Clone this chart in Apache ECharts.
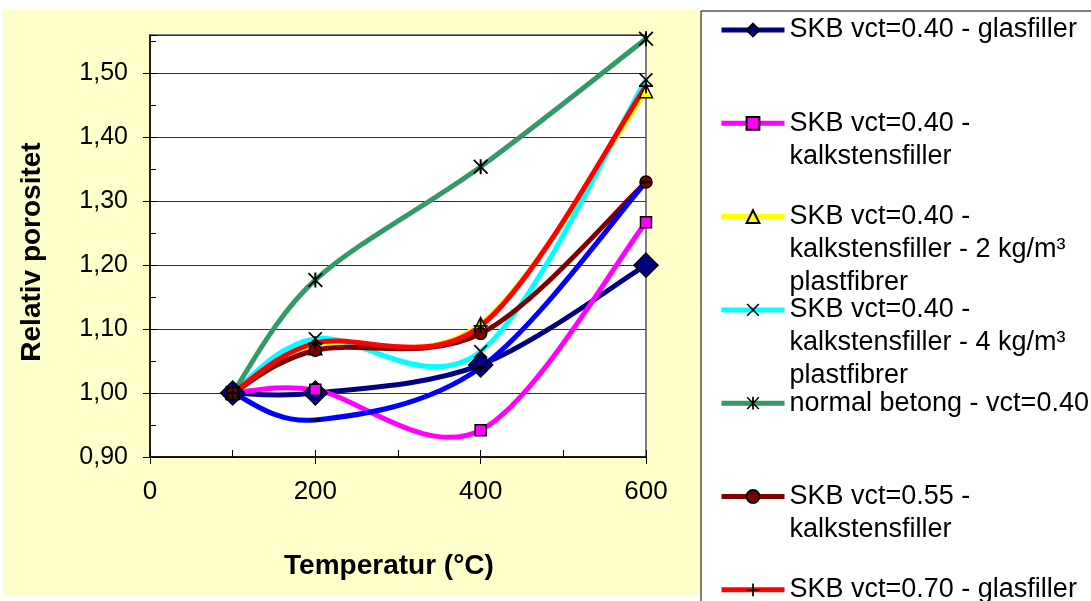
<!DOCTYPE html>
<html>
<head>
<meta charset="utf-8">
<title>Relativ porositet</title>
<script src="https://cdn.jsdelivr.net/npm/echarts@6/dist/echarts.min.js"></script>
<style>
  html, body { margin: 0; padding: 0; background: #fff; }
  #main { width: 1091px; height: 601px; }
</style>
</head>
<body>
<div id="main"></div>
<script>
// temperatures (°C) where porosity was measured
var temps = [100, 200, 400, 600];

// relative porosity per mix
var glas040 = [1.00, 1.00, 1.044, 1.20];
var kalk040 = [1.00, 1.005, 0.942, 1.267];
var kalk040p2 = [1.00, 1.07, 1.108, 1.472];
var kalk040p4 = [1.00, 1.085, 1.065, 1.49];
var normal040 = [1.00, 1.177, 1.354, 1.554];
var kalk055 = [1.00, 1.067, 1.093, 1.33];
var glas070 = [1.00, 1.078, 1.105, 1.48];
var kalk070 = [1.00, 0.958, 1.04, 1.33];

var names = [
  "SKB vct=0.40 - glasfiller",
  "SKB vct=0.40 - kalkstensfiller",
  "SKB vct=0.40 - kalkstensfiller - 2 kg/m³ plastfibrer",
  "SKB vct=0.40 - kalkstensfiller - 4 kg/m³ plastfibrer",
  "normal betong - vct=0.40",
  "SKB vct=0.55 - kalkstensfiller",
  "SKB vct=0.70 - glasfiller",
  "SKB vct=0.70 - kalkstensfiller"
];
// how the legend wraps each name
var legendLines = [
  ["SKB vct=0.40 - glasfiller"],
  ["SKB vct=0.40 -", "kalkstensfiller"],
  ["SKB vct=0.40 -", "kalkstensfiller - 2 kg/m³", "plastfibrer"],
  ["SKB vct=0.40 -", "kalkstensfiller - 4 kg/m³", "plastfibrer"],
  ["normal betong - vct=0.40"],
  ["SKB vct=0.55 -", "kalkstensfiller"],
  ["SKB vct=0.70 - glasfiller"],
  ["SKB vct=0.70 -", "kalkstensfiller"]
];
var values = [glas040, kalk040, kalk040p2, kalk040p4, normal040, kalk055, glas070, kalk070];

var lineColors = ["#000080", "#ff00ff", "#ffff00", "#00ffff", "#339966", "#800000", "#ff0000", "#0000ff"];

var xPath = "path://M-6,-5L-5,-6L0,-1L5,-6L6,-5L1,0L6,5L5,6L0,1L-5,6L-6,5L-1,0Z";
var starPath = "path://M-6,-5L-5,-6L0,-1L5,-6L6,-5L1,0L6,5L5,6L0,1L-5,6L-6,5L-1,0Z" +
  "M-0.8,-6L0.8,-6L0.8,6L-0.8,6Z";
var plusPath = "path://M-0.8,-6L0.8,-6L0.8,-0.8L6,-0.8L6,0.8L0.8,0.8L0.8,6L-0.8,6L-0.8,0.8L-6,0.8L-6,-0.8L-0.8,-0.8Z";
var dashPath = "path://M-4,-1L4,-1L4,1L-4,1Z";

var markers = [
  { symbol: "diamond", size: 24, fill: "#000080", border: 1.5 },
  { symbol: "rect", size: 11, fill: "#ff00ff", border: 1.5 },
  { symbol: "triangle", size: 13, fill: "#ffff00", border: 1.5 },
  { symbol: xPath, size: 14, fill: "#000", border: 0 },
  { symbol: starPath, size: 15, fill: "#000", border: 0 },
  { symbol: "circle", size: 12, fill: "#800000", border: 1.5 },
  { symbol: plusPath, size: 14, fill: "#000", border: 0 },
  { symbol: dashPath, size: [9, 3], fill: "#000", border: 0 }
];

var font = "Liberation Sans, Arial, sans-serif";

var chartDom = document.getElementById("main");
var myChart = echarts.init(chartDom);

function pairs(v) {
  return temps.map(function (t, i) { return [t, v[i]]; });
}

// Excel style smoothed line: bezier through the points, control points 1/6 of neighbour span
function smoothCurve(vals, color) {
  return function (params, api) {
    if (params.dataIndex !== 0) return null;
    var p = vals.map(function (v, i) { return api.coord([temps[i], v]); });
    var d = "M" + p[0][0] + "," + p[0][1];
    for (var i = 0; i < p.length - 1; i++) {
      var a = p[i - 1] || p[i], b = p[i], c = p[i + 1], e = p[i + 2] || p[i + 1];
      var c1 = [b[0] + (c[0] - a[0]) / 6, b[1] + (c[1] - a[1]) / 6];
      var c2 = [c[0] - (e[0] - b[0]) / 6, c[1] - (e[1] - b[1]) / 6];
      d += "C" + c1[0] + "," + c1[1] + "," + c2[0] + "," + c2[1] + "," + c[0] + "," + c[1];
    }
    return {
      type: "path",
      shape: { pathData: d },
      style: { stroke: color, lineWidth: 5, fill: "none", lineJoin: "round", lineCap: "round" }
    };
  };
}

var series = [];
// invisible line series: they only feed the legend icons
values.forEach(function (v, i) {
  series.push({
    name: names[i],
    type: "line",
    data: pairs(v),
    symbol: markers[i].symbol,
    showSymbol: false,
    silent: true,
    lineStyle: { color: lineColors[i], width: 5, opacity: 0 },
    itemStyle: { color: markers[i].fill, borderColor: "#000", borderWidth: markers[i].border },
    z: 1
  });
});
values.forEach(function (v, i) {
  series.push({
    name: names[i],
    type: "custom",
    data: pairs(v),
    renderItem: smoothCurve(v, lineColors[i]),
    z: 2
  });
});
// markers drawn after all the lines
values.forEach(function (v, i) {
  series.push({
    name: names[i],
    type: "scatter",
    data: pairs(v),
    symbol: markers[i].symbol,
    symbolSize: markers[i].size,
    itemStyle: { color: markers[i].fill, borderColor: "#000", borderWidth: markers[i].border, opacity: 1 },
    z: 3
  });
});

// one legend per entry so the rows keep Excel's even spacing
var legends = names.map(function (n, i) {
  var k = legendLines[i].length;
  var center = 30 + i * 93.3;
  return {
    data: [n],
    orient: "vertical",
    left: 719,
    top: center - (2 * k - 1) * 16.5,
    padding: 0,
    itemWidth: 63,
    itemHeight: 16,
    selectedMode: false,
    lineStyle: { width: 5, opacity: 1 },
    formatter: function (name) {
      var ls = legendLines[names.indexOf(name)];
      // blank lines on top keep the icon level with the first line
      return new Array(ls.length).join("\n") + ls.join("\n");
    },
    textStyle: { fontFamily: font, fontSize: 27, lineHeight: 33, color: "#000" }
  };
});

var option = {
  backgroundColor: "#fff",
  animation: false,
  graphic: [
    { type: "rect", z: -10, shape: { x: 3, y: 10, width: 698, height: 585 }, style: { fill: "#ffffcc" } },
    { type: "rect", z: -10, shape: { x: 701, y: 11, width: 500, height: 700 }, style: { fill: "#fff", stroke: "#000", lineWidth: 1 } }
  ],
  grid: {
    left: 150, right: 445, top: 35, bottom: 144,
    show: true, backgroundColor: "#fff", borderColor: "#808080", borderWidth: 2
  },
  legend: legends,
  xAxis: [
    {
      type: "value", min: 0, max: 600, interval: 200,
      name: "Temperatur (°C)", nameLocation: "middle", nameGap: 95,
      nameTextStyle: { fontFamily: font, fontSize: 28, fontWeight: "bold", color: "#000", padding: [0, 18, 0, 0] },
      axisLine: { lineStyle: { color: "#000", width: 1.5 } },
      axisTick: { show: true, length: 7, lineStyle: { color: "#000", width: 1 } },
      axisLabel: { fontFamily: font, fontSize: 26, color: "#000", margin: 22 },
      splitLine: { show: false }
    },
    {
      type: "value", min: 0, max: 600, interval: 200, position: "bottom",
      axisLine: { show: false },
      axisTick: { show: true, inside: true, length: 7, lineStyle: { color: "#000", width: 1 } },
      minorTick: { show: true, splitNumber: 2, length: 7, lineStyle: { color: "#000", width: 1 } },
      axisLabel: { show: false },
      splitLine: { show: false }
    }
  ],
  yAxis: [
    {
      type: "value", min: 0.9, max: 1.56, interval: 0.1,
      name: "Relativ porositet", nameLocation: "middle", nameGap: 104,
      nameTextStyle: { fontFamily: font, fontSize: 28, fontWeight: "bold", color: "#000", padding: [0, 12, 0, 0] },
      axisLine: { show: true, lineStyle: { color: "#000", width: 1.5 } },
      axisTick: { show: true, length: 7, lineStyle: { color: "#000", width: 1 } },
      axisLabel: {
        fontFamily: font, fontSize: 25, color: "#000", margin: 22, showMaxLabel: false,
        formatter: function (v) { return v.toFixed(2).replace(".", ","); }
      },
      splitLine: { show: true, lineStyle: { color: "#333", width: 1 } }
    },
    {
      type: "value", min: 0.9, max: 1.56, interval: 0.1, position: "left",
      axisLine: { show: false },
      axisTick: { show: true, inside: true, length: 7, lineStyle: { color: "#000", width: 1 } },
      minorTick: { show: true, splitNumber: 2, length: 6, lineStyle: { color: "#000", width: 1 } },
      axisLabel: { show: false },
      splitLine: { show: false }
    }
  ],
  series: series
};

option && myChart.setOption(option);
</script>
</body>
</html>
